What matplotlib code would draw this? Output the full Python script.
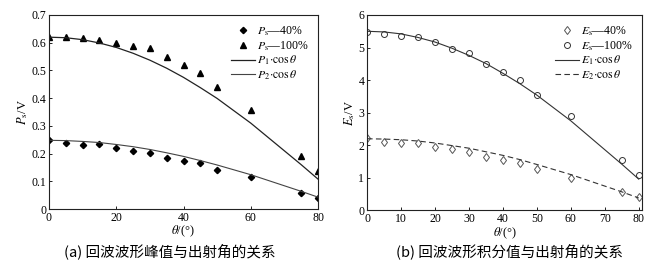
import matplotlib.pyplot as plt

plt.rcParams['font.family'] = ['Liberation Serif', 'Noto Sans CJK SC']
plt.rcParams['mathtext.fontset'] = 'stix'

# angles (deg)
theta = [0, 5, 10, 15, 20, 25, 30, 35, 40, 45, 50, 60, 75, 80]

# (a) peak values
ps_40 = [0.248, 0.240, 0.232, 0.236, 0.221, 0.211, 0.203, 0.186, 0.174, 0.165, 0.142, 0.115, 0.058, 0.040]
ps_100 = [0.622, 0.620, 0.616, 0.611, 0.600, 0.589, 0.580, 0.547, 0.518, 0.491, 0.439, 0.357, 0.193, 0.137]
p1_line = [0.620, 0.618, 0.611, 0.599, 0.583, 0.562, 0.537, 0.508, 0.475, 0.438, 0.399, 0.310, 0.160, 0.108]
p2_line = [0.248, 0.247, 0.244, 0.240, 0.233, 0.225, 0.215, 0.203, 0.190, 0.175, 0.159, 0.124, 0.064, 0.043]

# (b) integral values
es_40 = [2.22, 2.10, 2.07, 2.08, 1.95, 1.87, 1.79, 1.64, 1.54, 1.46, 1.27, 1.01, 0.56, 0.41]
es_100 = [5.49, 5.41, 5.36, 5.33, 5.18, 4.97, 4.82, 4.51, 4.24, 4.00, 3.54, 2.89, 1.54, 1.10]
e1_line = [5.50, 5.48, 5.42, 5.31, 5.17, 4.98, 4.76, 4.51, 4.21, 3.89, 3.54, 2.75, 1.42, 0.96]
e2_line = [2.20, 2.19, 2.17, 2.13, 2.07, 1.99, 1.91, 1.80, 1.69, 1.56, 1.41, 1.10, 0.57, 0.38]

fig = plt.figure(figsize=(6.71, 2.63), dpi=100)
ax1 = fig.add_axes([0.073, 0.205, 0.401, 0.738])
ax2 = fig.add_axes([0.547, 0.20, 0.410, 0.743])

# --- (a)
ax1.plot(theta, ps_40, 'D', color='k', ms=3.2, ls='none', label=r'$P_\mathrm{s}$—40%')
ax1.plot(theta, ps_100, '^', color='k', ms=4.6, ls='none', label=r'$P_\mathrm{s}$—100%')
ax1.plot(theta, p1_line, '-', color='#222222', lw=0.9, label=r'$P_1\!\cdot\!\cos\theta$')
ax1.plot(theta, p2_line, '-', color='#444444', lw=0.8, label=r'$P_2\!\cdot\!\cos\theta$')
ax1.set_xlim(0, 80)
ax1.set_ylim(0, 0.7)
ax1.set_xticks([0, 20, 40, 60, 80])
ax1.set_yticks([0, 0.1, 0.2, 0.3, 0.4, 0.5, 0.6, 0.7])
ax1.set_yticklabels(['0', '0.1', '0.2', '0.3', '0.4', '0.5', '0.6', '0.7'])
ax1.set_ylabel(r'$P_\mathrm{s}$/V', fontsize=9, labelpad=1)
ax1.set_xlabel(r'$\theta$/(°)', fontsize=9, labelpad=0)
ax1.legend(loc='upper right', frameon=False, fontsize=8.5, handlelength=2.0,
           handletextpad=0.2, labelspacing=0.1, borderpad=0.3, markerfirst=True)

# --- (b)
ax2.plot(theta, es_40, 'd', mfc='none', mec='#555555', ms=4.5, mew=0.7, ls='none',
         label=r'$E_\mathrm{s}$—40%')
ax2.plot(theta, es_100, 'o', mfc='none', mec='#333333', ms=4.3, mew=0.7, ls='none',
         label=r'$E_\mathrm{s}$—100%')
ax2.plot(theta, e1_line, '-', color='#333333', lw=0.8, label=r'$E_1\!\cdot\!\cos\theta$')
ax2.plot(theta, e2_line, '--', color='#333333', lw=0.8, dashes=(5, 3),
         label=r'$E_2\!\cdot\!\cos\theta$')
ax2.set_xlim(0, 81)
ax2.set_ylim(0, 6)
ax2.set_xticks([0, 10, 20, 30, 40, 50, 60, 70, 80])
ax2.set_yticks([0, 1, 2, 3, 4, 5, 6])
ax2.set_ylabel(r'$E_\mathrm{s}$/V', fontsize=9, labelpad=1)
ax2.set_xlabel(r'$\theta$/(°)', fontsize=9, labelpad=0)
ax2.legend(loc='upper right', frameon=False, fontsize=8.5, handlelength=2.0,
           handletextpad=0.2, labelspacing=0.1, borderpad=0.3)

for ax in (ax1, ax2):
    ax.tick_params(direction='in', length=2.5, width=0.6, labelsize=8.5, pad=2)
    for s in ax.spines.values():
        s.set_linewidth(0.8)
        s.set_color('#222222')

fig.text(0.253, 0.045, '(a) 回波波形峰值与出射角的关系', ha='center', va='center',
         fontsize=10.5, family=['Noto Sans CJK SC'])
fig.text(0.76, 0.045, '(b) 回波波形积分值与出射角的关系', ha='center', va='center',
         fontsize=10.5, family=['Noto Sans CJK SC'])

fig.savefig('out.png', dpi=100)
